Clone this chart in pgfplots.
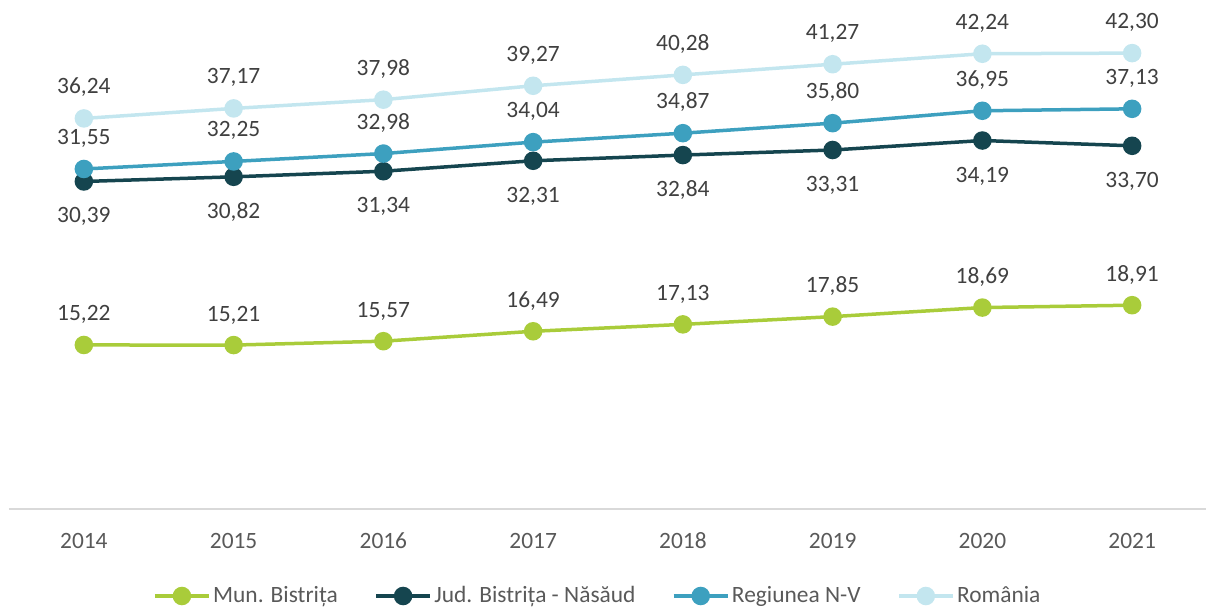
\documentclass[border=0pt]{standalone}
\usepackage{pgfplots}
\pgfplotsset{compat=1.18}
\usepackage{fontspec}
\setmainfont{Carlito}
\definecolor{cMun}{HTML}{A9CC3A}
\definecolor{cJud}{HTML}{15454F}
\definecolor{cReg}{HTML}{3DA0BF}
\definecolor{cRo}{HTML}{C3E6EF}
\definecolor{lbl}{HTML}{404040}
\definecolor{tck}{HTML}{595959}
\definecolor{axl}{HTML}{D9D9D9}
\begin{document}
\begin{tikzpicture}[font=\fontsize{11.7}{14}\selectfont]
\useasboundingbox (-4.5pt,-48.5pt) rectangle (598.5pt,254.5pt);
\begin{axis}[
  at={(0pt,0pt)}, anchor=south west,
  scale only axis, width=599pt, height=242.5pt,
  xmin=-0.5, xmax=7.5, ymin=0, ymax=45,
  clip=false,
  hide y axis,
  axis x line*=bottom,
  x axis line style={draw=axl, line width=0.75pt},
  xtick={0,1,2,3,4,5,6,7},
  xticklabels={2014,2015,2016,2017,2018,2019,2020,2021},
  major tick length=0pt,
  xticklabel style={anchor=base, yshift=-19.5pt, text=tck},
  /pgf/number format/.cd, fixed, fixed zerofill, precision=2, use comma, assume math mode=true,
  /pgfplots/.cd,
  every axis plot/.append style={line width=1.75pt, mark=*, mark size=3.75pt},
  nodes near coords,
  point meta=y,
  legend columns=4,
  legend cell align=left,
  legend style={at={(0.4917,0)}, anchor=center, yshift=-43.5pt, draw=none, fill=none,
    text=tck, /tikz/every even column/.append style={column sep=17pt},
    nodes={inner xsep=1.25pt}},
  legend image code/.code={\draw[mark repeat=2,mark phase=2,#1] plot coordinates {(0pt,0pt) (13.5pt,0pt) (27pt,0pt)};},
]
\addplot[color=cMun, mark options={fill=cMun, draw=cMun},
  nodes near coords style={anchor=base, yshift=12pt, text=lbl}]
  coordinates {(0,15.22) (1,15.21) (2,15.57) (3,16.49) (4,17.13) (5,17.85) (6,18.69) (7,18.91)};
\addlegendentry{Mun. Bistrița}
\addplot[color=cJud, mark options={fill=cJud, draw=cJud},
  nodes near coords style={anchor=base, yshift=-20.75pt, text=lbl}]
  coordinates {(0,30.39) (1,30.82) (2,31.34) (3,32.31) (4,32.84) (5,33.31) (6,34.19) (7,33.70)};
\addlegendentry{Jud. Bistrița - Năsăud}
\addplot[color=cReg, mark options={fill=cReg, draw=cReg},
  nodes near coords style={anchor=base, yshift=12.25pt, text=lbl}]
  coordinates {(0,31.55) (1,32.25) (2,32.98) (3,34.04) (4,34.87) (5,35.80) (6,36.95) (7,37.13)};
\addlegendentry{Regiunea N-V}
\addplot[color=cRo, mark options={fill=cRo, draw=cRo},
  nodes near coords style={anchor=base, yshift=12.25pt, text=lbl}]
  coordinates {(0,36.24) (1,37.17) (2,37.98) (3,39.27) (4,40.28) (5,41.27) (6,42.24) (7,42.30)};
\addlegendentry{România}
\end{axis}
\end{tikzpicture}
\end{document}
